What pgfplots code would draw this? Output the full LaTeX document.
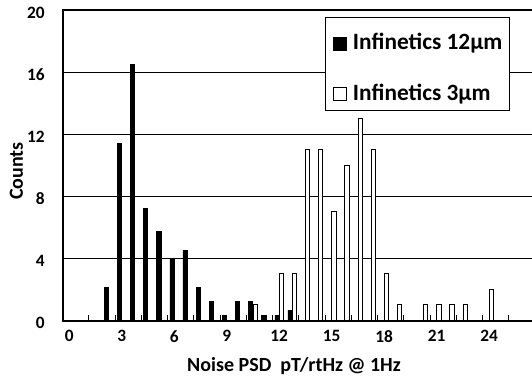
\documentclass[border=0pt]{standalone}
\usepackage{fontspec}
\setmainfont{Carlito}
\usepackage{pgfplots}
\pgfplotsset{compat=1.18}
\begin{document}
\begin{tikzpicture}
\path[use as bounding box] (-46.95pt,-44.625pt) rectangle (352.05pt,240.375pt);
\begin{axis}[
  at={(0pt,0pt)}, anchor=south west,
  scale only axis, width=352.05pt, height=232.875pt,
  xmin=-0.5, xmax=35.26, ymin=0, ymax=20,
  clip=false,
  axis line style={draw=none},
  xtick={0,4,...,32}, xticklabels={0,3,6,9,12,15,18,21,24},
  minor xtick={1.5,3.5,...,33.5},
  ytick={0,4,8,12,16,20},
  tick pos=left,
  major tick length=0pt,
  minor tick length=4.5pt,
  tick align=inside,
  minor tick style={line width=0.75pt, black},
  ymajorgrids, grid style={line width=0.75pt, black},
  /pgf/number format/assume math mode=true,
  tick label style={font=\fontsize{13}{15}\selectfont\bfseries},
  yticklabel style={anchor=east, inner sep=0pt, xshift=-13.2pt, yshift=-2pt},
  xticklabel style={anchor=north, inner sep=0pt, yshift=-7.1pt},
  label style={font=\fontsize{15}{18}\selectfont\bfseries},
  xlabel={Noise PSD\ \ pT/rtHz @ 1Hz},
  xlabel style={at={(axis description cs:0.493,0)}, anchor=north, inner sep=0pt, yshift=-27.4pt},
  ylabel={Counts},
  ylabel style={at={(axis description cs:-0.0837,0.4815)}, anchor=south, inner sep=0pt},
  legend cell align=left,
  legend style={at={(0.559,0.9775)}, anchor=north west, draw=black, line width=0.75pt, fill=white,
    inner xsep=5.6pt, inner ysep=4.5pt, row sep=15.3pt,
    font=\fontsize{17.5}{20}\selectfont\bfseries,
    cells={anchor=base west},
    nodes={inner sep=0pt, text height=19.7pt, text depth=3pt},
    /tikz/every odd column/.append style={column sep=4.5pt}},
]
\addplot[ybar, bar width=0.32, bar shift=-0.17, fill=black, draw=black, line width=0.5pt,
  legend image code/.code={\draw[fill=black,draw=black,line width=0.5pt] (0pt,-0.2pt) rectangle (9.75pt,9.55pt);}]
  coordinates {(3,2.13) (4,11.43) (5,16.5) (6,7.2) (7,5.74) (8,3.94) (9,4.52) (10,2.13) (11,1.21) (12,0.35) (13,1.21) (14,1.21) (15,0.33) (16,0.33) (17,0.67)};
\addlegendentry{Infinetics 12µm}
\addplot[ybar, bar width=0.32, bar shift=0.17, fill=white, draw=black, line width=0.75pt,
  legend image code/.code={\draw[fill=white,draw=black,line width=0.75pt] (0pt,-0.2pt) rectangle (9.75pt,9.55pt);}]
  coordinates {(14,1) (16,3) (17,3) (18,11) (19,11) (20,7) (21,10) (22,13) (23,11) (24,3) (25,1) (27,1) (28,1) (29,1) (30,1) (32,2)};
\addlegendentry{Infinetics 3µm}
\draw[line width=1.5pt, line join=miter] (rel axis cs:1,1) -- (rel axis cs:0,1) -- (rel axis cs:0,0) -- (rel axis cs:1,0);
\end{axis}
\end{tikzpicture}
\end{document}
